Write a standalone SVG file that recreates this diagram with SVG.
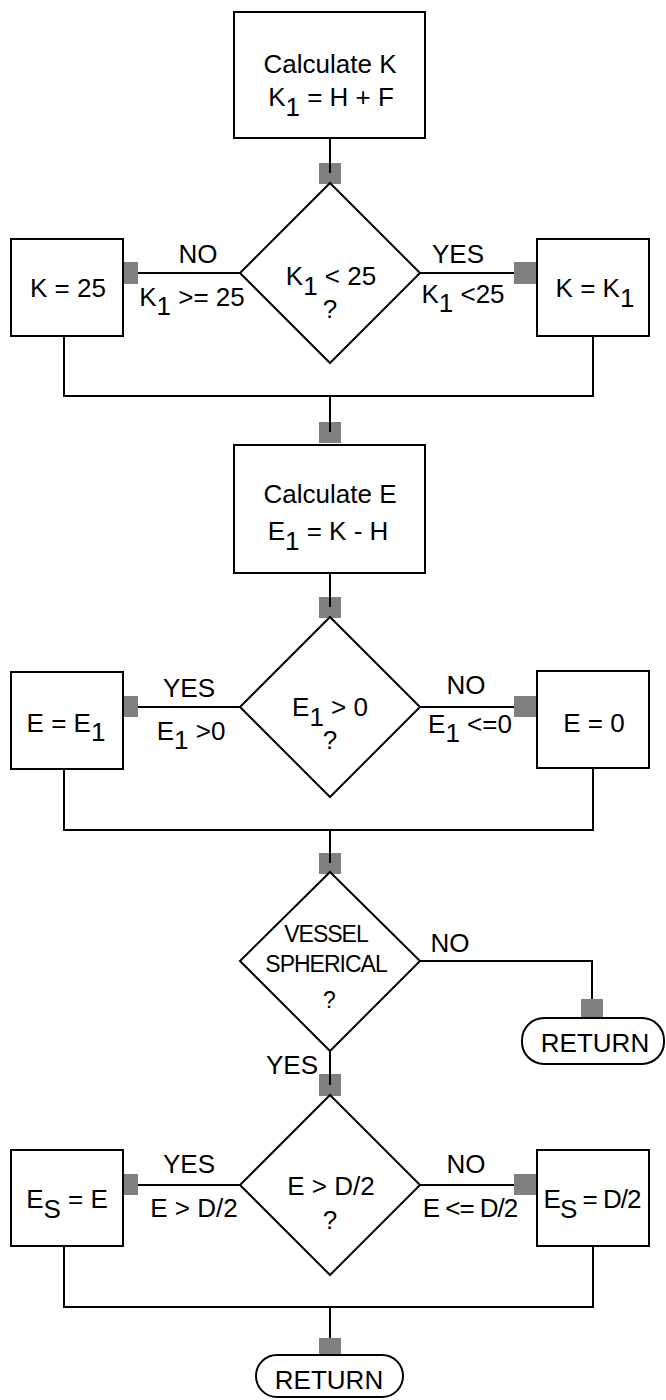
<svg xmlns="http://www.w3.org/2000/svg" width="666" height="1400" viewBox="0 0 666 1400">
<style>
.s{fill:#fff;stroke:#000;stroke-width:2}
.c{fill:none;stroke:#000;stroke-width:2}
.p{fill:#808080;stroke:none}
text{font-family:"Liberation Sans",Arial,sans-serif;font-size:26px;fill:#000;text-anchor:middle}
.sm{font-size:23px;letter-spacing:-1px}
</style>
<rect width="666" height="1400" fill="#fff"/>
<g id="connectors">
<rect class="p" x="319" y="163" width="22" height="21"/>
<rect class="p" x="116" y="262" width="22" height="22"/>
<rect class="p" x="514" y="262" width="22" height="22"/>
<rect class="p" x="319" y="422" width="22" height="21"/>
<rect class="p" x="319" y="597" width="22" height="21"/>
<rect class="p" x="116" y="696" width="22" height="21"/>
<rect class="p" x="514" y="696" width="22" height="21"/>
<rect class="p" x="319" y="853" width="22" height="21"/>
<rect class="p" x="581" y="999" width="22" height="21"/>
<rect class="p" x="319" y="1074" width="22" height="22"/>
<rect class="p" x="116" y="1174" width="22" height="21"/>
<rect class="p" x="514" y="1174" width="22" height="21"/>
<rect class="p" x="319" y="1338" width="22" height="21"/>
<path class="c" d="M330 138V173M240 273H138M420 273H514M64 336V396H593V336M330 396V432M330 573V607M240 707H138M420 707H514M64 769V830H593V769M330 830V863M420 961H592V999M330 1051V1085M240 1185H138M420 1185H514M64 1246V1307H593V1246M330 1307V1338"/>
<text x="198" y="263">NO</text>
<text x="192" y="306">K<tspan dy="9">1</tspan><tspan dy="-9"> &gt;= 25</tspan></text>
<text x="458" y="263">YES</text>
<text x="463" y="303">K<tspan dy="9">1</tspan><tspan dy="-9"> &lt;25</tspan></text>
<text x="189" y="697">YES</text>
<text x="191" y="740">E<tspan dy="9">1</tspan><tspan dy="-9"> &gt;0</tspan></text>
<text x="466" y="694">NO</text>
<text x="470" y="733">E<tspan dy="9">1</tspan><tspan dy="-9"> &lt;=0</tspan></text>
<text x="450" y="952">NO</text>
<text x="292" y="1074">YES</text>
<text x="189" y="1173">YES</text>
<text x="194" y="1217">E &gt; D/2</text>
<text x="466" y="1173">NO</text>
<text x="470" y="1217" style="letter-spacing:-1px">E &lt;= D/2</text>
</g>
<g id="calcK">
<rect class="s" x="234" y="12" width="191" height="126"/>
<text x="330" y="73">Calculate K</text>
<text x="331" y="106">K<tspan dy="10">1</tspan><tspan dy="-10"> = H + F</tspan></text>
</g>
<g id="decK">
<path class="s" d="M330 183L420 273L330 363L240 273Z"/>
<text x="331" y="285">K<tspan dy="10">1</tspan><tspan dy="-10"> &lt; 25</tspan></text>
<text x="330" y="318">?</text>
</g>
<g id="K25">
<rect class="s" x="11" y="239" width="112" height="97"/>
<text x="68" y="297">K = 25</text>
</g>
<g id="KK1">
<rect class="s" x="537" y="239" width="112" height="97"/>
<text x="595" y="297">K = K<tspan dy="10">1</tspan></text>
</g>
<g id="calcE">
<rect class="s" x="234" y="445" width="191" height="128"/>
<text x="330" y="503">Calculate E</text>
<text x="328" y="540">E<tspan dy="10">1</tspan><tspan dy="-10"> = K - H</tspan></text>
</g>
<g id="decE">
<path class="s" d="M330 617L420 707L330 797L240 707Z"/>
<text x="330" y="716">E<tspan dy="10">1</tspan><tspan dy="-10"> &gt; 0</tspan></text>
<text x="330" y="749">?</text>
</g>
<g id="EE1">
<rect class="s" x="11" y="672" width="112" height="97"/>
<text x="66" y="732">E = E<tspan dy="9">1</tspan></text>
</g>
<g id="E0">
<rect class="s" x="537" y="671" width="112" height="97"/>
<text x="594" y="732">E = 0</text>
</g>
<g id="decVessel">
<path class="s" d="M330 872L420 961L330 1051L240 961Z"/>
<text class="sm" x="326" y="942">VESSEL</text>
<text class="sm" x="326" y="972">SPHERICAL</text>
<text class="sm" x="329" y="1008">?</text>
</g>
<g id="return1">
<rect class="s" x="522" y="1018" width="142" height="46" rx="22" ry="22"/>
<text x="595" y="1052">RETURN</text>
</g>
<g id="decD">
<path class="s" d="M330 1095L420 1185L330 1275L240 1185Z"/>
<text x="331" y="1195">E &gt; D/2</text>
<text x="330" y="1229">?</text>
</g>
<g id="EsE">
<rect class="s" x="11" y="1150" width="112" height="96"/>
<text x="67" y="1208">E<tspan dy="10">S</tspan><tspan dy="-10"> = E</tspan></text>
</g>
<g id="EsD">
<rect class="s" x="537" y="1150" width="112" height="96"/>
<text x="592" y="1208" style="letter-spacing:-1px">E<tspan dy="10">S</tspan><tspan dy="-10"> = D/2</tspan></text>
</g>
<g id="return2">
<rect class="s" x="256" y="1355" width="147" height="42" rx="21" ry="21"/>
<text x="329" y="1389">RETURN</text>
</g>
</svg>
